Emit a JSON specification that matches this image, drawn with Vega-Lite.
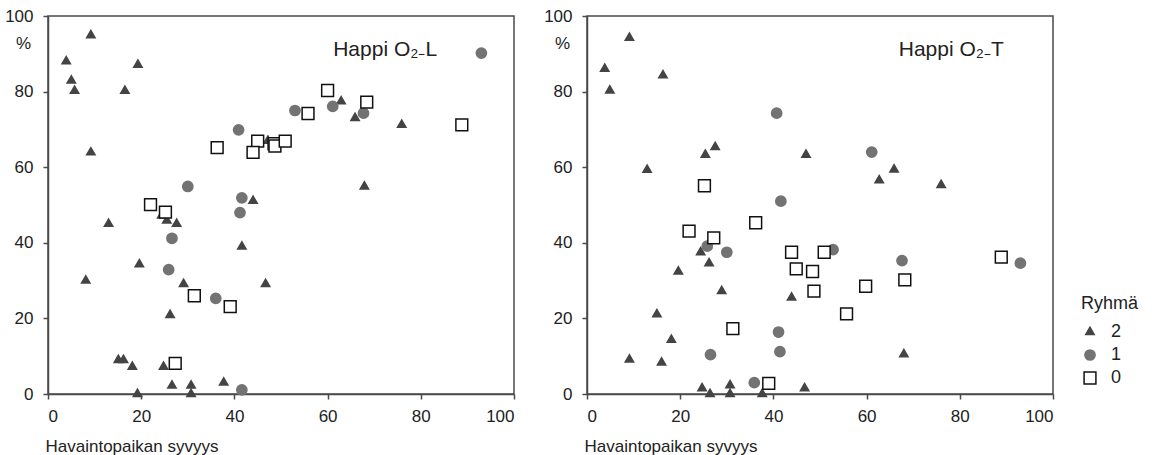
{
  "$schema": "https://vega.github.io/schema/vega-lite/v6.json",
  "background": "white",
  "padding": {"left": 3, "top": 6, "right": 0, "bottom": 0},
  "config": {
    "font": "Liberation Sans",
    "view": {"stroke": "#4a4a4a", "strokeWidth": 1.5},
    "axis": {
      "grid": false,
      "domainColor": "#4a4a4a",
      "domainWidth": 1.5,
      "tickColor": "#4a4a4a",
      "tickWidth": 1.5,
      "tickSize": 5,
      "labelFont": "Liberation Sans",
      "labelFontSize": 17,
      "labelColor": "#222222",
      "titleFont": "Liberation Sans",
      "titleFontSize": 17,
      "titleFontWeight": "normal",
      "titleColor": "#222222"
    },
    "legend": {
      "titleFont": "Liberation Sans",
      "labelFont": "Liberation Sans",
      "titleFontSize": 18,
      "labelFontSize": 18,
      "titleFontWeight": "normal",
      "titleColor": "#222222",
      "labelColor": "#222222",
      "rowPadding": 5,
      "titlePadding": 10,
      "labelOffset": 12
    }
  },
  "datasets": {
    "L": [
      {"depth": 9.2, "pct": 94.9, "Ryhma": "2"},
      {"depth": 3.9, "pct": 88.0, "Ryhma": "2"},
      {"depth": 5.0, "pct": 82.9, "Ryhma": "2"},
      {"depth": 5.7, "pct": 80.2, "Ryhma": "2"},
      {"depth": 19.3, "pct": 87.1, "Ryhma": "2"},
      {"depth": 16.5, "pct": 80.2, "Ryhma": "2"},
      {"depth": 9.2, "pct": 63.9, "Ryhma": "2"},
      {"depth": 47.2, "pct": 67.0, "Ryhma": "2"},
      {"depth": 44.0, "pct": 51.1, "Ryhma": "2"},
      {"depth": 62.9, "pct": 77.4, "Ryhma": "2"},
      {"depth": 65.9, "pct": 73.0, "Ryhma": "2"},
      {"depth": 75.9, "pct": 71.2, "Ryhma": "2"},
      {"depth": 67.9, "pct": 54.9, "Ryhma": "2"},
      {"depth": 24.4, "pct": 47.2, "Ryhma": "2"},
      {"depth": 25.5, "pct": 45.9, "Ryhma": "2"},
      {"depth": 27.6, "pct": 45.0, "Ryhma": "2"},
      {"depth": 13.0, "pct": 45.0, "Ryhma": "2"},
      {"depth": 41.6, "pct": 39.0, "Ryhma": "2"},
      {"depth": 19.6, "pct": 34.3, "Ryhma": "2"},
      {"depth": 8.1, "pct": 30.0, "Ryhma": "2"},
      {"depth": 29.1, "pct": 29.1, "Ryhma": "2"},
      {"depth": 46.7, "pct": 29.1, "Ryhma": "2"},
      {"depth": 26.2, "pct": 20.9, "Ryhma": "2"},
      {"depth": 15.1, "pct": 9.0, "Ryhma": "2"},
      {"depth": 16.2, "pct": 9.0, "Ryhma": "2"},
      {"depth": 18.1, "pct": 7.2, "Ryhma": "2"},
      {"depth": 24.8, "pct": 7.2, "Ryhma": "2"},
      {"depth": 26.6, "pct": 2.2, "Ryhma": "2"},
      {"depth": 30.7, "pct": 2.2, "Ryhma": "2"},
      {"depth": 37.7, "pct": 3.0, "Ryhma": "2"},
      {"depth": 19.2, "pct": 0.0, "Ryhma": "2"},
      {"depth": 30.7, "pct": 0.0, "Ryhma": "2"},
      {"depth": 40.9, "pct": 69.9, "Ryhma": "1"},
      {"depth": 30.0, "pct": 54.9, "Ryhma": "1"},
      {"depth": 41.6, "pct": 51.9, "Ryhma": "1"},
      {"depth": 93.0, "pct": 90.2, "Ryhma": "1"},
      {"depth": 61.1, "pct": 76.1, "Ryhma": "1"},
      {"depth": 53.0, "pct": 75.0, "Ryhma": "1"},
      {"depth": 67.7, "pct": 74.3, "Ryhma": "1"},
      {"depth": 26.6, "pct": 41.2, "Ryhma": "1"},
      {"depth": 41.2, "pct": 48.0, "Ryhma": "1"},
      {"depth": 25.9, "pct": 32.9, "Ryhma": "1"},
      {"depth": 36.0, "pct": 25.3, "Ryhma": "1"},
      {"depth": 41.6, "pct": 1.1, "Ryhma": "1"},
      {"depth": 36.3, "pct": 65.2, "Ryhma": "0"},
      {"depth": 45.0, "pct": 66.9, "Ryhma": "0"},
      {"depth": 44.0, "pct": 63.9, "Ryhma": "0"},
      {"depth": 48.5, "pct": 66.2, "Ryhma": "0"},
      {"depth": 48.7, "pct": 65.6, "Ryhma": "0"},
      {"depth": 50.9, "pct": 66.9, "Ryhma": "0"},
      {"depth": 60.0, "pct": 80.3, "Ryhma": "0"},
      {"depth": 55.8, "pct": 74.2, "Ryhma": "0"},
      {"depth": 68.4, "pct": 77.2, "Ryhma": "0"},
      {"depth": 88.8, "pct": 71.2, "Ryhma": "0"},
      {"depth": 22.0, "pct": 50.1, "Ryhma": "0"},
      {"depth": 25.2, "pct": 48.1, "Ryhma": "0"},
      {"depth": 31.4, "pct": 26.0, "Ryhma": "0"},
      {"depth": 39.1, "pct": 23.1, "Ryhma": "0"},
      {"depth": 27.3, "pct": 8.1, "Ryhma": "0"}
    ],
    "T": [
      {"depth": 9.1, "pct": 94.2, "Ryhma": "2"},
      {"depth": 3.8, "pct": 86.0, "Ryhma": "2"},
      {"depth": 4.9, "pct": 80.3, "Ryhma": "2"},
      {"depth": 16.3, "pct": 84.3, "Ryhma": "2"},
      {"depth": 12.9, "pct": 59.3, "Ryhma": "2"},
      {"depth": 25.4, "pct": 63.3, "Ryhma": "2"},
      {"depth": 27.5, "pct": 65.3, "Ryhma": "2"},
      {"depth": 47.0, "pct": 63.3, "Ryhma": "2"},
      {"depth": 65.9, "pct": 59.4, "Ryhma": "2"},
      {"depth": 62.7, "pct": 56.5, "Ryhma": "2"},
      {"depth": 76.0, "pct": 55.3, "Ryhma": "2"},
      {"depth": 24.4, "pct": 37.5, "Ryhma": "2"},
      {"depth": 26.2, "pct": 34.6, "Ryhma": "2"},
      {"depth": 19.6, "pct": 32.4, "Ryhma": "2"},
      {"depth": 28.9, "pct": 27.2, "Ryhma": "2"},
      {"depth": 43.9, "pct": 25.5, "Ryhma": "2"},
      {"depth": 15.0, "pct": 21.1, "Ryhma": "2"},
      {"depth": 18.1, "pct": 14.3, "Ryhma": "2"},
      {"depth": 9.1, "pct": 9.1, "Ryhma": "2"},
      {"depth": 16.0, "pct": 8.3, "Ryhma": "2"},
      {"depth": 24.7, "pct": 1.5, "Ryhma": "2"},
      {"depth": 30.7, "pct": 2.3, "Ryhma": "2"},
      {"depth": 26.4, "pct": 0.0, "Ryhma": "2"},
      {"depth": 30.7, "pct": 0.0, "Ryhma": "2"},
      {"depth": 37.6, "pct": 0.0, "Ryhma": "2"},
      {"depth": 46.7, "pct": 1.5, "Ryhma": "2"},
      {"depth": 68.0, "pct": 10.5, "Ryhma": "2"},
      {"depth": 40.7, "pct": 74.3, "Ryhma": "1"},
      {"depth": 41.6, "pct": 51.0, "Ryhma": "1"},
      {"depth": 61.1, "pct": 64.0, "Ryhma": "1"},
      {"depth": 25.8, "pct": 39.1, "Ryhma": "1"},
      {"depth": 30.0, "pct": 37.5, "Ryhma": "1"},
      {"depth": 52.8, "pct": 38.2, "Ryhma": "1"},
      {"depth": 41.1, "pct": 16.4, "Ryhma": "1"},
      {"depth": 41.4, "pct": 11.2, "Ryhma": "1"},
      {"depth": 26.5, "pct": 10.4, "Ryhma": "1"},
      {"depth": 35.9, "pct": 3.0, "Ryhma": "1"},
      {"depth": 67.6, "pct": 35.3, "Ryhma": "1"},
      {"depth": 93.0, "pct": 34.6, "Ryhma": "1"},
      {"depth": 25.2, "pct": 55.1, "Ryhma": "0"},
      {"depth": 21.9, "pct": 43.1, "Ryhma": "0"},
      {"depth": 27.2, "pct": 41.3, "Ryhma": "0"},
      {"depth": 36.2, "pct": 45.3, "Ryhma": "0"},
      {"depth": 43.9, "pct": 37.5, "Ryhma": "0"},
      {"depth": 50.9, "pct": 37.5, "Ryhma": "0"},
      {"depth": 44.9, "pct": 33.1, "Ryhma": "0"},
      {"depth": 48.4, "pct": 32.4, "Ryhma": "0"},
      {"depth": 48.7, "pct": 27.2, "Ryhma": "0"},
      {"depth": 31.3, "pct": 17.3, "Ryhma": "0"},
      {"depth": 39.0, "pct": 2.8, "Ryhma": "0"},
      {"depth": 68.2, "pct": 30.2, "Ryhma": "0"},
      {"depth": 59.8, "pct": 28.5, "Ryhma": "0"},
      {"depth": 55.7, "pct": 21.2, "Ryhma": "0"},
      {"depth": 88.9, "pct": 36.2, "Ryhma": "0"}
    ],
    "labelsL": [{"depth": 61.2, "pct": 89.3, "label": "Happi O₂₋L"}],
    "labelsT": [{"depth": 66.9, "pct": 89.3, "label": "Happi O₂₋T"}]
  },
  "spacing": 73,
  "bounds": "flush",
  "hconcat": [
    {
      "width": 466,
      "height": 378,
      "layer": [
        {
          "data": {"name": "L"},
          "mark": {"type": "point", "filled": true, "strokeWidth": 1.5, "opacity": 1},
          "encoding": {
            "x": {"field": "depth", "type": "quantitative", "scale": {"domain": [0, 100], "nice": false},
                  "axis": {"values": [0, 20, 40, 60, 80, 100], "title": "Havaintopaikan syvyys", "titleAnchor": "start", "titleAlign": "left", "titleX": -3, "titleY": 57, "titleBaseline": "alphabetic", "labelPadding": 9}},
            "y": {"field": "pct", "type": "quantitative", "scale": {"domain": [0, 100], "nice": false},
                  "axis": {"values": [0, 20, 40, 60, 80, 100], "title": "%", "titleAngle": 0, "titleX": -25, "titleY": 27, "titleAlign": "center", "titleBaseline": "middle", "labelPadding": 10}},
            "shape": {"field": "Ryhma", "type": "ordinal", "scale": {"domain": ["2", "1", "0"], "range": ["triangle", "circle", "square"]}, "legend": {"title": "Ryhmä", "orient": "none", "legendX": 1033, "legendY": 279}},
            "fill": {"field": "Ryhma", "type": "ordinal", "scale": {"domain": ["2", "1", "0"], "range": ["#444444", "#737373", "#ffffff"]}, "legend": {"title": "Ryhmä", "orient": "none", "legendX": 1033, "legendY": 279}},
            "stroke": {"field": "Ryhma", "type": "ordinal", "scale": {"domain": ["2", "1", "0"], "range": ["#444444", "#737373", "#111111"]}, "legend": {"title": "Ryhmä", "orient": "none", "legendX": 1033, "legendY": 279}},
            "size": {"field": "Ryhma", "type": "ordinal", "scale": {"domain": ["2", "1", "0"], "range": [70, 140, 90]}, "legend": {"title": "Ryhmä", "orient": "none", "legendX": 1033, "legendY": 279}}
          }
        },
        {
          "data": {"name": "labelsL"},
          "mark": {"type": "text", "align": "left", "baseline": "alphabetic", "fontSize": 21, "font": "Liberation Sans", "color": "#222222"},
          "encoding": {
            "x": {"field": "depth", "type": "quantitative"},
            "y": {"field": "pct", "type": "quantitative"},
            "text": {"field": "label"}
          }
        }
      ]
    },
    {
      "width": 466,
      "height": 378,
      "layer": [
        {
          "data": {"name": "T"},
          "mark": {"type": "point", "filled": true, "strokeWidth": 1.5, "opacity": 1},
          "encoding": {
            "x": {"field": "depth", "type": "quantitative", "scale": {"domain": [0, 100], "nice": false},
                  "axis": {"values": [0, 20, 40, 60, 80, 100], "title": "Havaintopaikan syvyys", "titleAnchor": "start", "titleAlign": "left", "titleX": -3, "titleY": 57, "titleBaseline": "alphabetic", "labelPadding": 9}},
            "y": {"field": "pct", "type": "quantitative", "scale": {"domain": [0, 100], "nice": false},
                  "axis": {"values": [0, 20, 40, 60, 80, 100], "title": "%", "titleAngle": 0, "titleX": -25, "titleY": 27, "titleAlign": "center", "titleBaseline": "middle", "labelPadding": 10}},
            "shape": {"field": "Ryhma", "type": "ordinal", "scale": {"domain": ["2", "1", "0"], "range": ["triangle", "circle", "square"]}, "legend": {"title": "Ryhmä", "orient": "none", "legendX": 1033, "legendY": 279}},
            "fill": {"field": "Ryhma", "type": "ordinal", "scale": {"domain": ["2", "1", "0"], "range": ["#444444", "#737373", "#ffffff"]}, "legend": {"title": "Ryhmä", "orient": "none", "legendX": 1033, "legendY": 279}},
            "stroke": {"field": "Ryhma", "type": "ordinal", "scale": {"domain": ["2", "1", "0"], "range": ["#444444", "#737373", "#111111"]}, "legend": {"title": "Ryhmä", "orient": "none", "legendX": 1033, "legendY": 279}},
            "size": {"field": "Ryhma", "type": "ordinal", "scale": {"domain": ["2", "1", "0"], "range": [70, 140, 90]}, "legend": {"title": "Ryhmä", "orient": "none", "legendX": 1033, "legendY": 279}}
          }
        },
        {
          "data": {"name": "labelsT"},
          "mark": {"type": "text", "align": "left", "baseline": "alphabetic", "fontSize": 21, "font": "Liberation Sans", "color": "#222222"},
          "encoding": {
            "x": {"field": "depth", "type": "quantitative"},
            "y": {"field": "pct", "type": "quantitative"},
            "text": {"field": "label"}
          }
        }
      ]
    }
  ]
}
